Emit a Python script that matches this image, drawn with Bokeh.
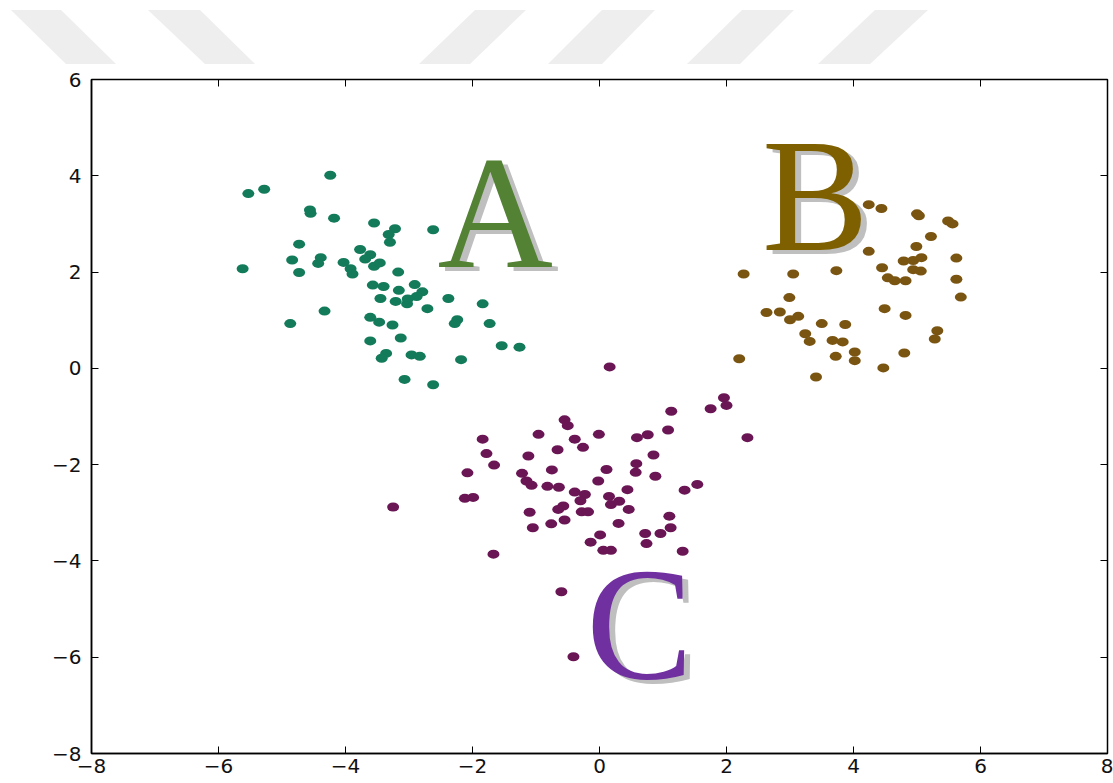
from bokeh.plotting import figure
from bokeh.layouts import column
from bokeh.models import Range1d, LinearAxis, FixedTicker, Div
from bokeh.core.properties import value
from bokeh.embed import file_html
from bokeh.resources import INLINE

# ---------------- data ----------------
a_x = [-4.24, -5.53, -5.28, -4.56, -4.55, -4.18, -3.55, -3.22, -3.32, -3.30,
       -2.62, -4.73, -4.84, -4.73, -5.62, -4.39, -4.43, -4.03, -3.92, -3.89,
       -3.77, -3.61, -3.69, -3.55, -3.46, -3.17, -3.57, -3.40, -3.16, -2.91,
       -2.79, -2.88, -3.45, -3.21, -3.03, -3.02, -2.71, -2.38, -1.84, -4.33,
       -4.87, -3.61, -3.47, -3.26, -2.24, -2.28, -1.73, -3.13, -3.61, -3.36,
       -3.43, -2.96, -2.83, -2.18, -1.54, -1.26, -3.07, -2.62]
a_y = [4.01, 3.63, 3.72, 3.29, 3.22, 3.12, 3.02, 2.90, 2.78, 2.62,
       2.88, 2.58, 2.25, 1.99, 2.07, 2.30, 2.18, 2.20, 2.07, 1.96,
       2.47, 2.36, 2.27, 2.12, 2.19, 2.00, 1.73, 1.70, 1.62, 1.74,
       1.59, 1.49, 1.45, 1.39, 1.34, 1.44, 1.24, 1.45, 1.34, 1.19,
       0.93, 1.06, 0.96, 0.90, 1.01, 0.93, 0.93, 0.63, 0.57, 0.31,
       0.21, 0.28, 0.25, 0.18, 0.47, 0.44, -0.23, -0.34]

b_x = [4.24, 4.44, 5.00, 5.03, 5.49, 5.56, 5.22, 4.99, 4.24, 4.79,
       4.94, 5.07, 5.62, 4.45, 4.94, 5.06, 4.54, 4.65, 4.82, 5.62,
       5.69, 2.27, 3.05, 3.73, 2.99, 2.63, 2.84, 3.00, 3.13, 3.50,
       3.87, 4.49, 4.82, 3.24, 3.31, 3.67, 3.83, 3.72, 4.02, 4.02,
       4.80, 5.32, 5.28, 2.20, 4.47, 3.41]
b_y = [3.40, 3.32, 3.21, 3.17, 3.06, 3.00, 2.74, 2.53, 2.43, 2.23,
       2.24, 2.30, 2.29, 2.09, 2.05, 2.02, 1.88, 1.82, 1.82, 1.85,
       1.48, 1.96, 1.96, 2.03, 1.47, 1.16, 1.17, 1.01, 1.08, 0.93,
       0.91, 1.24, 1.10, 0.72, 0.56, 0.58, 0.55, 0.25, 0.34, 0.16,
       0.32, 0.78, 0.61, 0.20, 0.01, -0.18]

c_x = [0.16, 1.96, 2.00, 1.75, 1.13, 2.33, 1.08, -0.55, -0.50, -0.96,
       -0.39, -0.26, -0.01, 0.59, 0.76, -1.84, -1.78, -1.66, -0.66, -1.12,
       0.85, 0.58, 0.57, 0.11, -0.75, 0.88, -2.08, -1.22, -1.15, -1.07,
       -0.82, -0.64, -0.02, 0.44, 1.34, 1.54, -2.12, -1.99, -3.25, -0.39,
       -0.23, -0.30, 0.15, 0.18, 0.31, 0.46, -0.57, -0.65, -0.28, -0.18,
       -1.10, -1.05, -0.76, -0.55, 0.30, 1.10, 1.12, 0.96, 0.72, 0.74,
       0.01, -0.14, 0.06, 0.18, 1.31, -1.67, -0.60, -0.41]
c_y = [0.03, -0.61, -0.77, -0.84, -0.89, -1.44, -1.28, -1.07, -1.19, -1.37,
       -1.47, -1.64, -1.37, -1.44, -1.38, -1.47, -1.77, -2.01, -1.69, -1.82,
       -1.80, -1.98, -2.16, -2.10, -2.11, -2.24, -2.17, -2.18, -2.34, -2.43,
       -2.45, -2.47, -2.34, -2.52, -2.53, -2.41, -2.70, -2.68, -2.88, -2.57,
       -2.62, -2.75, -2.66, -2.83, -2.76, -2.93, -2.86, -2.93, -2.98, -2.98,
       -2.99, -3.31, -3.23, -3.15, -3.22, -3.07, -3.31, -3.43, -3.43, -3.64,
       -3.46, -3.61, -3.78, -3.78, -3.80, -3.86, -4.64, -5.99]

labels = ["A", "B", "C"]
label_x = [-1.64, 3.40, 0.63]
label_y = [3.23, 3.57, -5.31]
label_colors = ["#548235", "#7F6000", "#7030A0"]
dot_colors = ["#137A5A", "#7A5512", "#6A1654"]

ticks = [-8, -6, -4, -2, 0, 2, 4, 6, 8]

# --------------- decorative stripes (header band) ---------------
stripes = [[(11, 10), (61, 10), (116, 64), (66, 64)],
           [(148, 10), (200, 10), (255, 64), (205, 64)],
           [(475, 10), (526, 10), (470, 64), (419, 64)],
           [(602, 10), (655, 10), (602, 64), (548, 64)],
           [(742, 10), (794, 10), (740, 64), (687, 64)],
           [(875, 10), (928, 10), (870, 64), (818, 64)]]
polys = "".join(
    '<polygon points="%s" fill="#EEEEEE"/>' % " ".join("%d,%d" % pt for pt in s)
    for s in stripes)
header = Div(text='<svg width="1113" height="64" style="display:block">%s</svg>' % polys,
             width=1113, height=64, margin=(0, 0, 0, 0))

# --------------- main figure ---------------
p = figure(width=1113, height=719, x_range=Range1d(-8, 8), y_range=Range1d(-8, 6),
           output_backend="svg", toolbar_location=None,
           min_border_left=91, min_border_right=6, min_border_top=15, min_border_bottom=30,
           outline_line_color="black", outline_line_width=1.5, margin=(0, 0, 0, 0))
p.grid.visible = False
p.background_fill_color = "white"

for ax in (p.xaxis[0], p.yaxis[0]):
    ax.ticker = FixedTicker(ticks=ticks)
    ax.major_tick_in = 7
    ax.major_tick_out = 0
    ax.minor_tick_line_color = None
    ax.axis_line_color = "black"
    ax.axis_line_width = 1.5
    ax.major_tick_line_color = "black"
    ax.major_label_text_font = "DejaVu Sans"
    ax.major_label_text_font_size = "20px"
    ax.major_label_text_color = "#111111"
p.xaxis[0].major_label_standoff = 5
p.yaxis[0].major_label_standoff = 10

for loc in ("above", "right"):
    ax = LinearAxis(ticker=FixedTicker(ticks=ticks), major_tick_in=7, major_tick_out=0,
                    minor_tick_line_color=None, major_label_standoff=0,
                    major_label_overrides={t: "" for t in ticks},
                    axis_line_color=None)
    p.add_layout(ax, loc)

for xs, ys, col in ((a_x, a_y, dot_colors[0]), (b_x, b_y, dot_colors[1]), (c_x, c_y, dot_colors[2])):
    p.ellipse(x=xs, y=ys, width=12, height=9, width_units="screen", height_units="screen",
              fill_color=col, line_color=None)

font = value("Liberation Serif")
p.text(x=label_x, y=label_y, text=labels, x_offset=6, y_offset=4,
       text_color="#BFBFBF", text_font=font, text_font_size="160px",
       text_align="center", text_baseline="middle")
p.text(x=label_x, y=label_y, text=labels, text_color=label_colors,
       text_font=font, text_font_size="160px",
       text_align="center", text_baseline="middle")

layout = column(header, p, spacing=0)
open("out.html", "w").write(file_html(layout, INLINE))
